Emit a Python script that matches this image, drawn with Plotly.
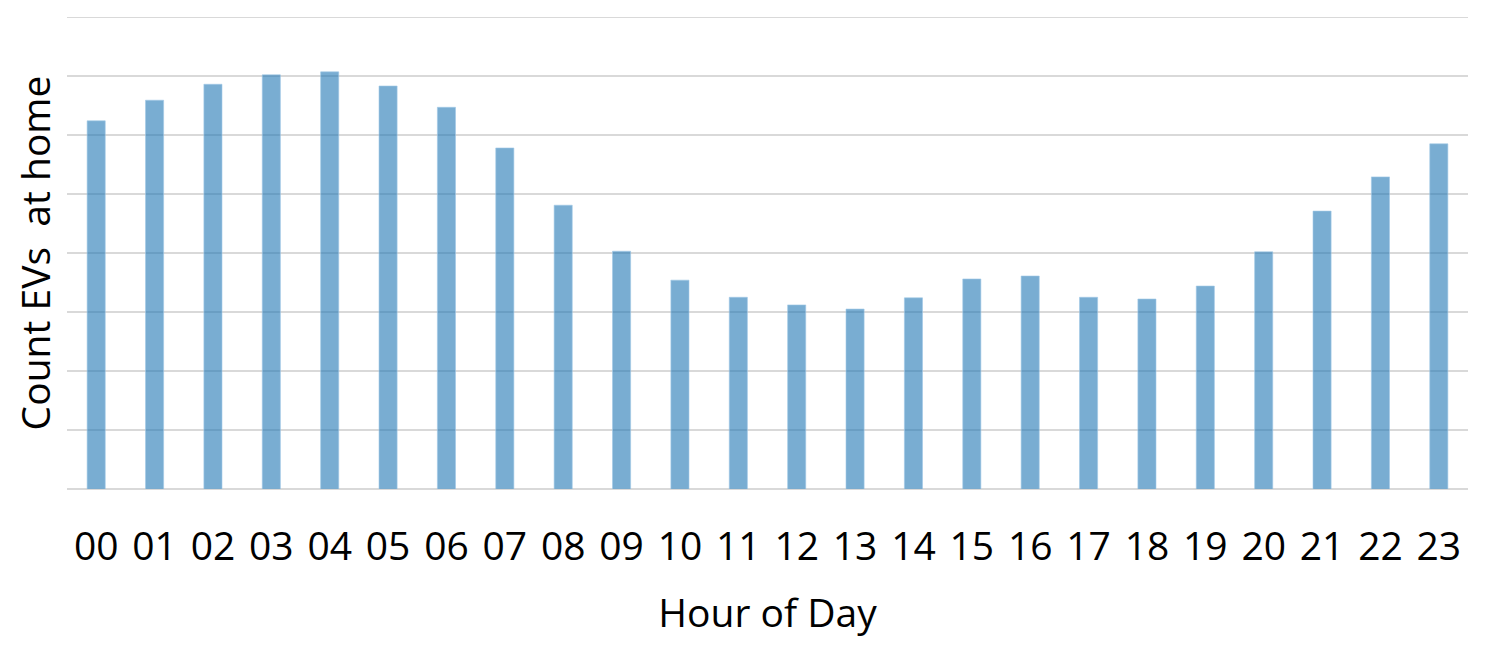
import plotly.graph_objects as go

hours = ["00", "01", "02", "03", "04", "05", "06", "07", "08", "09", "10", "11",
         "12", "13", "14", "15", "16", "17", "18", "19", "20", "21", "22", "23"]
counts = [6.24, 6.59, 6.86, 7.02, 7.07, 6.83, 6.47, 5.78, 4.81, 4.03, 3.54, 3.25,
          3.12, 3.05, 3.24, 3.56, 3.61, 3.25, 3.22, 3.44, 4.02, 4.71, 5.29, 5.85]
y_top = 8

FONT = "Open Sans"

fig = go.Figure(
    go.Bar(
        x=hours,
        y=counts,
        width=0.31,
        marker=dict(color="rgba(31,119,180,0.6)",
                    line=dict(color="rgba(160,200,230,0.6)", width=1)),
    )
)

fig.update_layout(
    width=1481,
    height=643,
    margin=dict(l=59, r=21, t=9, b=162),
    paper_bgcolor="white",
    plot_bgcolor="white",
    showlegend=False,
    font=dict(family=FONT, size=39, color="black"),
    shapes=[dict(type="line", xref="paper", x0=0, x1=1, yref="y", y0=y_top, y1=y_top,
                 line=dict(color="#d9d9d9", width=2), layer="below")],
)

fig.update_xaxes(
    type="category",
    title=dict(text="Hour of Day", font=dict(family=FONT, size=39), standoff=29),
    tickfont=dict(family=FONT, size=39),
    showgrid=False,
    ticks="",
    ticklabelstandoff=31,
    showline=False,
    automargin=False,
)

fig.update_yaxes(
    range=[0, y_top],
    dtick=1,
    showticklabels=False,
    showgrid=True,
    gridcolor="#d9d9d9",
    gridwidth=2,
    zeroline=True,
    zerolinecolor="#d9d9d9",
    zerolinewidth=2,
    title=dict(text="Count EVs  at home", font=dict(family=FONT, size=39), standoff=11),
    automargin=False,
)

fig.write_html("out.html")
